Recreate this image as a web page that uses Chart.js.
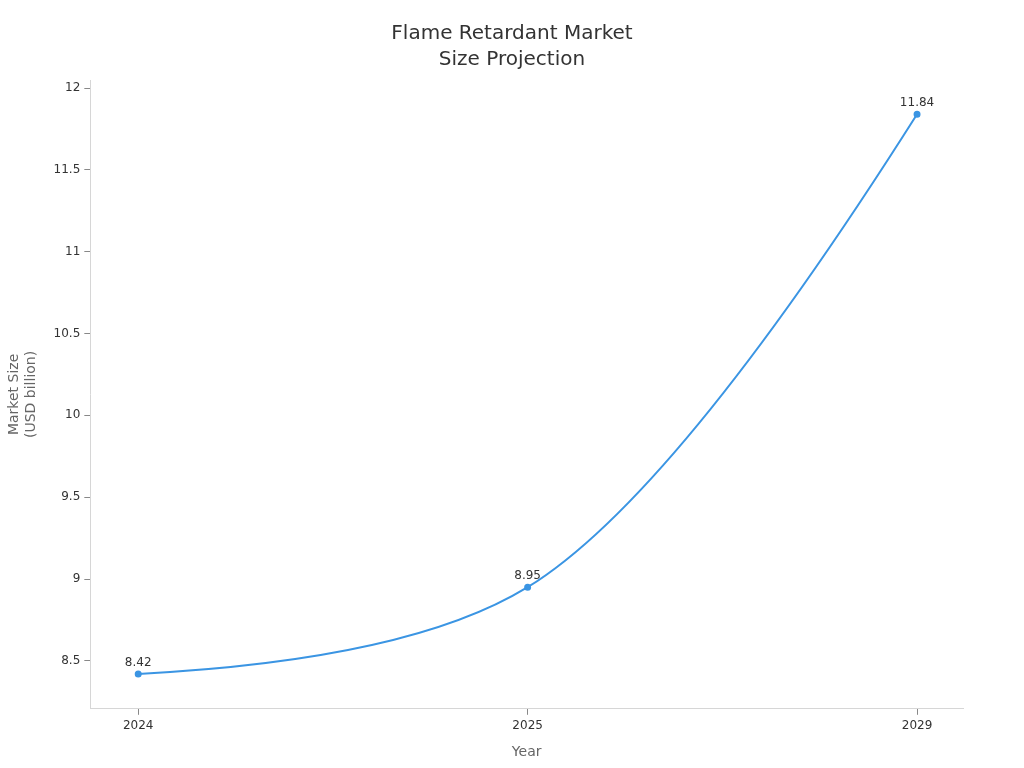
<!DOCTYPE html>
<html>
<head>
<meta charset="utf-8">
<script src="https://cdn.jsdelivr.net/npm/chart.js@4/dist/chart.umd.min.js"></script>
<style>
  html, body { margin: 0; padding: 0; background: #fff; }
  #wrap { width: 1024px; height: 768px; }
</style>
</head>
<body>
<div id="wrap"><canvas id="chart"></canvas></div>
<script>
'use strict';

const years = ['2024', '2025', '2029'];
const marketSize = [8.42, 8.95, 11.84];
const yTicks = [8.5, 9, 9.5, 10, 10.5, 11, 11.5, 12];
const titleLines = ['Flame Retardant Market', 'Size Projection'];

const lineColor = '#3b95e3';
const textColor = '#333333';
const mutedColor = '#666666';
const axisColor = '#d6d6d6';

// catmull-rom style smoothing in pixel space; end segments are quadratics
function tangentPair(a, b, c) {
    const d1x = a.x - b.x, d1y = a.y - b.y;
    const d2x = c.x - b.x, d2y = c.y - b.y;
    const d1a = Math.pow(d1x * d1x + d1y * d1y, 0.25);
    const d2a = Math.pow(d2x * d2x + d2y * d2y, 0.25);
    const numx = d2a * d2a * d1x - d1a * d1a * d2x;
    const numy = d2a * d2a * d1y - d1a * d1a * d2y;
    const den1 = 3 * d2a * (d1a + d2a);
    const den2 = 3 * d1a * (d1a + d2a);
    return {
        inX: b.x + (den1 && numx / den1), inY: b.y + (den1 && numy / den1),
        outX: b.x - (den2 && numx / den2), outY: b.y - (den2 && numy / den2),
    };
}

const smoothCurve = {
    id: 'smoothCurve',
    afterDatasetsUpdate(chart) {
        const meta = chart.getDatasetMeta(0);
        const pts = meta.data;
        const n = pts.length;
        if (n < 3) return;
        const tan = [];
        for (let i = 1; i < n - 1; i += 1) {
            tan[i] = tangentPair(pts[i - 1], pts[i], pts[i + 1]);
        }
        pts.forEach(p => { p.cp1x = p.x; p.cp1y = p.y; p.cp2x = p.x; p.cp2y = p.y; });
        // first segment: quadratic raised to cubic
        const q0x = tan[1].inX, q0y = tan[1].inY;
        pts[0].cp2x = pts[0].x + 2 / 3 * (q0x - pts[0].x);
        pts[0].cp2y = pts[0].y + 2 / 3 * (q0y - pts[0].y);
        pts[1].cp1x = pts[1].x + 2 / 3 * (q0x - pts[1].x);
        pts[1].cp1y = pts[1].y + 2 / 3 * (q0y - pts[1].y);
        // inner segments
        for (let i = 1; i < n - 2; i += 1) {
            pts[i].cp2x = tan[i].outX;
            pts[i].cp2y = tan[i].outY;
            pts[i + 1].cp1x = tan[i + 1].inX;
            pts[i + 1].cp1y = tan[i + 1].inY;
        }
        // last segment
        const a = pts[n - 2], b = pts[n - 1];
        const qx = tan[n - 2].outX, qy = tan[n - 2].outY;
        a.cp2x = a.x + 2 / 3 * (qx - a.x);
        a.cp2y = a.y + 2 / 3 * (qy - a.y);
        b.cp1x = b.x + 2 / 3 * (qx - b.x);
        b.cp1y = b.y + 2 / 3 * (qy - b.y);
        meta.dataset._pointsUpdated = true;
    },
};

// draws the value above each point
const valueLabels = {
    id: 'valueLabels',
    afterDatasetsDraw(chart) {
        const ctx = chart.ctx;
        const meta = chart.getDatasetMeta(0);
        ctx.save();
        ctx.font = '12px "DejaVu Sans"';
        ctx.fillStyle = textColor;
        ctx.textAlign = 'center';
        ctx.textBaseline = 'bottom';
        meta.data.forEach((pt, i) => {
            ctx.fillText(String(marketSize[i]), pt.x, pt.y - 5);
        });
        ctx.restore();
    },
};

// title centred on the whole canvas
const pageTitle = {
    id: 'pageTitle',
    afterDraw(chart) {
        const ctx = chart.ctx;
        ctx.save();
        ctx.font = '20px "DejaVu Sans"';
        ctx.fillStyle = textColor;
        ctx.textAlign = 'center';
        ctx.textBaseline = 'middle';
        titleLines.forEach((line, i) => {
            ctx.fillText(line, chart.width / 2, 34 + i * 26);
        });
        ctx.restore();
    },
};

Chart.defaults.font.family = '"DejaVu Sans", sans-serif';

new Chart(document.getElementById('chart').getContext('2d'), {
    type: 'line',
    data: {
        datasets: [{
            label: 'Market Size',
            data: marketSize.map((v, i) => ({x: i, y: v})),
            borderColor: lineColor,
            backgroundColor: lineColor,
            borderWidth: 2,
            pointRadius: 2.5,
            pointHoverRadius: 3,
            tension: 0.4,
            fill: false,
        }],
    },
    options: {
        responsive: true,
        maintainAspectRatio: false,
        animation: false,
        layout: {padding: {top: 80, right: 61, bottom: 3, left: 2}},
        plugins: {
            legend: {display: false},
            tooltip: {enabled: false},
            title: {display: false},
        },
        scales: {
            x: {
                type: 'linear',
                min: -0.123,
                max: 2.118,
                afterBuildTicks: axis => {
                    axis.ticks = years.map((_, i) => ({value: i}));
                },
                ticks: {
                    callback: v => years[v],
                    color: textColor,
                    font: {size: 12},
                    padding: 4,
                },
                grid: {display: true, drawOnChartArea: false, drawTicks: true, tickLength: 6, tickColor: '#888'},
                border: {display: true, color: axisColor},
                title: {
                    display: true,
                    text: 'Year',
                    color: mutedColor,
                    font: {size: 14},
                    padding: {top: 7, bottom: 4},
                },
            },
            y: {
                min: 8.207,
                max: 12.049,
                afterBuildTicks: axis => {
                    axis.ticks = yTicks.map(v => ({value: v}));
                },
                ticks: {
                    callback: v => String(v),
                    color: textColor,
                    font: {size: 12},
                    padding: 4,
                },
                grid: {display: true, drawOnChartArea: false, drawTicks: true, tickLength: 6, tickColor: '#888'},
                border: {display: true, color: axisColor},
                title: {
                    display: true,
                    text: ['Market Size', '(USD billion)'],
                    color: mutedColor,
                    font: {size: 14},
                    padding: {bottom: 10},
                },
            },
        },
    },
    plugins: [smoothCurve, valueLabels, pageTitle],
});
</script>
</body>
</html>
